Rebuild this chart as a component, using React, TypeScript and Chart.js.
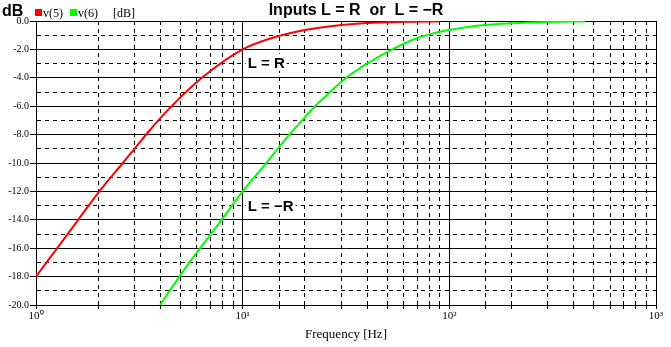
import React, { useEffect, useRef } from "react";
import { Chart, registerables } from "chart.js";

Chart.register(...registerables);

// Frequency response "Inputs L = R or L = -R"
const freqLR = [1.0, 1.28, 1.6, 2.0, 2.63, 3.0, 3.5, 4.46, 6.35, 10, 15, 20, 30, 40, 60, 90];
const dbLR = [-18.0, -15.9, -14.0, -12.1, -10.0, -9.0, -7.8, -6.1, -4.0, -2.0, -1.05, -0.63, -0.28, -0.14, -0.06, -0.03];

const freqLmR = [3.98, 4.94, 6.22, 7.64, 10, 12.85, 16.4, 19.4, 22.4, 26.5, 31.7, 40, 53, 70, 87, 100, 126, 160, 200, 300, 455];
const dbLmR = [-20, -18, -16, -14.3, -12, -10.1, -8.2, -7.0, -6.0, -5.0, -4.0, -3.0, -2.0, -1.2, -0.8, -0.63, -0.4, -0.25, -0.16, -0.07, -0.03];

const xTickValues = [1, 10, 100, 1000];
const xTickLabels = ["10\u2070", "10\u00B9", "10\u00B2", "10\u00B3"];

const seriesNames = ["v(5)", "v(6)"];
const seriesColors = ["#ff0000", "#00ff00"];
const unitLabel = "[dB]";
const yAxisLabel = "dB";
const titleText = "Inputs L = R  or  L = \u2212R";
const annotLR = "L = R";
const annotLmR = "L = \u2212R";
const xAxisTitle = "Frequency [Hz]";

const SERIF = "'Liberation Serif', 'Times New Roman', serif";
const SANS = "'Liberation Sans', Arial, sans-serif";
const ANNOT_FONT = `bold 15px ${SANS}`;

const isPow10 = (v: number) => Math.abs(Math.log10(v) - Math.round(Math.log10(v))) < 1e-6;

const annotations = (chart: any) => {
  const x = chart.scales.x;
  const y = chart.scales.y;
  return [
    { text: annotLR, px: x.getPixelForValue(10) + 5, py: y.getPixelForValue(-3.3) },
    { text: annotLmR, px: x.getPixelForValue(10) + 5, py: y.getPixelForValue(-13.4) },
  ];
};

const textPlugin = {
  id: "texts",
  beforeDatasetsDraw(chart: any) {
    const { ctx } = chart;
    ctx.save();
    ctx.font = ANNOT_FONT;
    ctx.fillStyle = "#fff";
    for (const a of annotations(chart)) {
      const w = ctx.measureText(a.text).width;
      ctx.fillRect(a.px - 2, a.py - 14, w + 4, 17);
    }
    ctx.restore();
  },
  afterDraw(chart: any) {
    const { ctx } = chart;
    const x = chart.scales.x;
    ctx.save();
    ctx.fillStyle = "#000";
    ctx.textBaseline = "alphabetic";

    ctx.font = `bold 16px ${SANS}`;
    ctx.textAlign = "left";
    ctx.fillText(yAxisLabel, 2, 16);

    ctx.textAlign = "center";
    ctx.fillText(titleText, 356, 15);

    // legend
    ctx.font = `12px ${SERIF}`;
    ctx.textAlign = "left";
    ctx.fillStyle = seriesColors[0];
    ctx.fillRect(35, 9, 7, 7);
    ctx.fillStyle = "#000";
    ctx.fillText(seriesNames[0], 43, 17);
    ctx.fillStyle = seriesColors[1];
    ctx.fillRect(70, 9, 7, 7);
    ctx.fillStyle = "#000";
    ctx.fillText(seriesNames[1], 78, 17);
    ctx.fillText(unitLabel, 113, 17);

    // annotations
    ctx.font = ANNOT_FONT;
    for (const a of annotations(chart)) {
      ctx.fillText(a.text, a.px, a.py);
    }

    // x axis title
    ctx.font = `13px ${SERIF}`;
    ctx.textAlign = "center";
    ctx.fillText(xAxisTitle, (x.left + x.right) / 2, 338);
    ctx.restore();
  },
};

export default function App() {
  const ref = useRef<HTMLCanvasElement>(null);

  useEffect(() => {
    document.body.style.margin = "0";
    if (!ref.current) return;
    const chart = new Chart(ref.current, {
      type: "line",
      data: {
        datasets: [
          {
            label: seriesNames[0],
            data: freqLR.map((f, i) => ({ x: f, y: dbLR[i] })),
            borderColor: seriesColors[0],
            borderWidth: 2,
            pointRadius: 0,
            cubicInterpolationMode: "monotone",
            fill: false,
          },
          {
            label: seriesNames[1],
            data: freqLmR.map((f, i) => ({ x: f, y: dbLmR[i] })),
            borderColor: seriesColors[1],
            borderWidth: 2,
            pointRadius: 0,
            cubicInterpolationMode: "monotone",
            fill: false,
          },
        ],
      },
      options: {
        responsive: false,
        animation: false,
        devicePixelRatio: 1,
        layout: { padding: { top: 21, right: 15, left: 0, bottom: 0 } },
        plugins: { legend: { display: false }, title: { display: false }, tooltip: { enabled: false } },
        scales: {
          x: {
            type: "logarithmic",
            min: 1,
            max: 1000,
            afterFit: (s: any) => {
              s.height = 42;
            },
            border: {
              display: true,
              color: "#000",
              width: 1,
              dash: (c: any) => (c.tick && !isPow10(c.tick.value) ? [4, 4] : []),
            },
            grid: {
              color: "#000",
              lineWidth: 1,
              tickColor: "#000",
              tickLength: 4,
            },
            ticks: {
              autoSkip: false,
              maxRotation: 0,
              padding: 1,
              color: "#000",
              font: { family: SERIF, size: 11 },
              callback: (v: any) => {
                const idx = xTickValues.findIndex((t) => Math.abs(t - Number(v)) < 1e-6 * t);
                return idx >= 0 ? xTickLabels[idx] : "";
              },
            },
          },
          y: {
            type: "linear",
            min: -20,
            max: 0,
            afterFit: (s: any) => {
              s.width = 36;
            },
            border: {
              display: true,
              color: "#000",
              width: 1,
              dash: (c: any) => (c.tick && Math.round(c.tick.value) % 2 !== 0 ? [4, 4] : []),
            },
            grid: {
              color: "#000",
              lineWidth: 1,
              tickLength: 6,
              tickColor: (c: any) => (c.tick && Math.round(c.tick.value) % 2 !== 0 ? "rgba(0,0,0,0)" : "#000"),
            },
            ticks: {
              stepSize: 1,
              autoSkip: false,
              padding: 1,
              color: "#000",
              font: { family: SERIF, size: 10 },
              callback: (v: any) => (Math.round(Number(v)) % 2 === 0 ? Number(v).toFixed(1) : ""),
            },
          },
        },
      },
      plugins: [textPlugin],
    } as any);
    return () => chart.destroy();
  }, []);

  return (
    <div style={{ width: 671, height: 347 }}>
      <canvas ref={ref} width={671} height={347} style={{ display: "block", width: 671, height: 347 }} />
    </div>
  );
}
